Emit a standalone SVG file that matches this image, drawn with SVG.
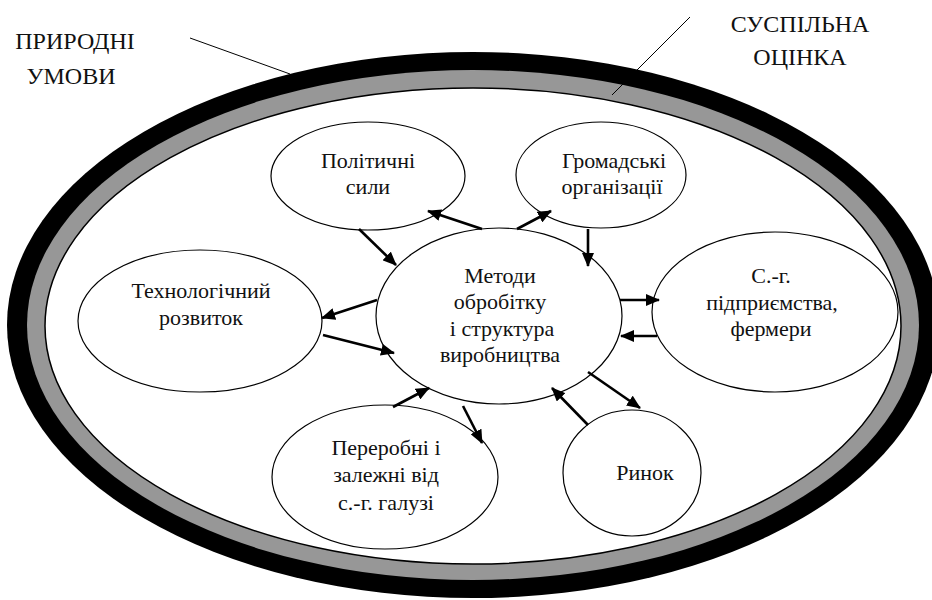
<svg xmlns="http://www.w3.org/2000/svg" width="932" height="600" viewBox="0 0 932 600">
<style>
.node{fill:#fff;stroke:#000;stroke-width:1.2}
.lbl{font-family:"Liberation Serif","Liberation Sans",sans-serif;font-size:22px;fill:#111;text-anchor:middle}
.big{font-family:"Liberation Serif","Liberation Sans",sans-serif;font-size:24px;fill:#111;text-anchor:middle}
.arr{stroke:#000;stroke-width:2.6;fill:none;marker-end:url(#ah)}
.lead{stroke:#000;stroke-width:1;fill:none}
</style>
<defs>
<marker id="ah" markerUnits="userSpaceOnUse" markerWidth="14" markerHeight="12" refX="13" refY="6" orient="auto">
<path d="M0,0 L14,6 L0,12 z" fill="#000"/>
</marker>
</defs>
<rect width="932" height="600" fill="#fff"/>
<g id="ring">
<ellipse cx="473" cy="325" rx="466" ry="273" fill="#000"/>
<ellipse cx="473" cy="325" rx="446" ry="255" fill="#979797"/>
<ellipse cx="473" cy="326" rx="428" ry="238" fill="#fff" stroke="#000" stroke-width="1.5"/>
</g>
<g id="labels-outer">
<text class="big" x="75" y="49">ПРИРОДНІ</text>
<text class="big" x="71" y="84">УМОВИ</text>
<text class="big" x="800" y="32">СУСПІЛЬНА</text>
<text class="big" x="800" y="65">ОЦІНКА</text>
<line class="lead" x1="190" y1="38" x2="290" y2="74"/>
<line class="lead" x1="690" y1="17" x2="612" y2="95"/>
</g>
<g id="n-center">
<ellipse class="node" cx="499" cy="316" rx="123" ry="88"/>
<text class="lbl" x="500" y="283">Методи</text>
<text class="lbl" x="500" y="309">обробітку</text>
<text class="lbl" x="502" y="336">і структура</text>
<text class="lbl" x="500" y="362">виробництва</text>
</g>
<g id="n-polit">
<ellipse class="node" cx="368" cy="176" rx="97" ry="54"/>
<text class="lbl" x="368" y="168">Політичні</text>
<text class="lbl" x="368" y="194">сили</text>
</g>
<g id="n-gromad">
<ellipse class="node" cx="601" cy="175" rx="85" ry="53"/>
<text class="lbl" x="614" y="168">Громадські</text>
<text class="lbl" x="612" y="194">організації</text>
</g>
<g id="n-tech">
<ellipse class="node" cx="200" cy="321" rx="122" ry="71"/>
<text class="lbl" x="201" y="298">Технологічний</text>
<text class="lbl" x="201" y="325">розвиток</text>
</g>
<g id="n-sg">
<ellipse class="node" cx="775" cy="312" rx="123" ry="80"/>
<text class="lbl" x="771" y="283">С.-г.</text>
<text class="lbl" x="772" y="310">підприємства,</text>
<text class="lbl" x="771" y="336">фермери</text>
</g>
<g id="n-pererob">
<ellipse class="node" cx="385" cy="477" rx="113" ry="72"/>
<text class="lbl" x="386" y="455">Переробні і</text>
<text class="lbl" x="386" y="482">залежні від</text>
<text class="lbl" x="386" y="510">с.-г. галузі</text>
</g>
<g id="n-rynok">
<ellipse class="node" cx="632" cy="473" rx="69" ry="63"/>
<text class="lbl" x="645" y="480">Ринок</text>
</g>
<g id="connectors">
<line class="arr" x1="482" y1="229" x2="428" y2="211"/>
<line class="arr" x1="517" y1="229" x2="551" y2="211"/>
<line class="arr" x1="359" y1="229" x2="396" y2="265"/>
<line class="arr" x1="588" y1="229" x2="588" y2="266"/>
<line class="arr" x1="377" y1="300" x2="322" y2="318"/>
<line class="arr" x1="323" y1="335" x2="394" y2="353"/>
<line class="arr" x1="620" y1="300" x2="659" y2="300"/>
<line class="arr" x1="657" y1="336" x2="621" y2="336"/>
<line class="arr" x1="588" y1="372" x2="640" y2="408"/>
<line class="arr" x1="588" y1="425" x2="552" y2="388"/>
<line class="arr" x1="393" y1="407" x2="429" y2="388"/>
<line class="arr" x1="463" y1="406" x2="482" y2="443"/>
</g>
</svg>
